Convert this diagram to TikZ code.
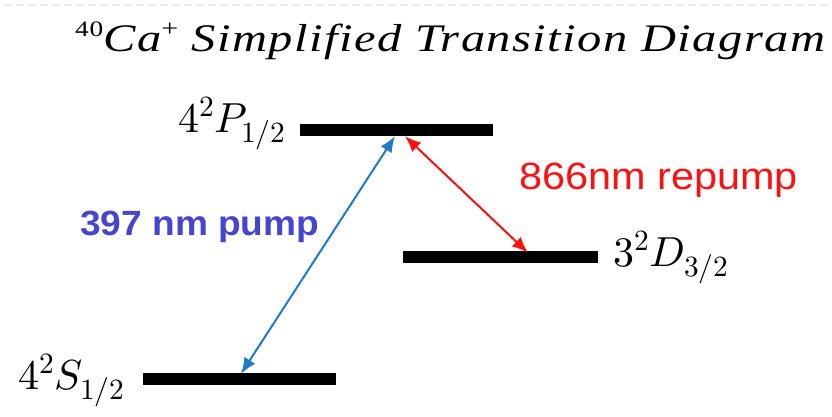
\documentclass[tikz,border=0pt]{standalone}
\usepackage{fontspec}
\usepackage{unicode-math}
\setmathfont{Latin Modern Math}
\newfontfamily\labelfont{Liberation Sans}
\newfontfamily\titlefont[LetterSpace=3]{Liberation Serif}
\usetikzlibrary{arrows.meta}
\definecolor{pumpblue}{HTML}{1F7BC8}
\definecolor{pumptext}{HTML}{4545CF}
\definecolor{repred}{HTML}{FF1010}
\definecolor{faintgray}{HTML}{EBEBEB}
\newsavebox\titlebox
\newcommand\fittitle[2]{%
  \sbox\titlebox{#2}%
  \pgfmathsetmacro\titlescale{#1/\wd\titlebox}%
  \scalebox{\titlescale}[1]{\usebox\titlebox}}
\tikzset{
  level/.style={fill=black, inner sep=0pt, minimum height=12pt, minimum width=#1},
  statelabel/.style={inner sep=0pt, font=\fontsize{42}{50}\selectfont},
  trans/.style={line width=2pt, {Latex[length=16pt,width=13pt]}-{Latex[length=16pt,width=13pt]}},
}
\begin{document}
\begin{tikzpicture}[x=1pt,y=-1pt]
\useasboundingbox (0,0) rectangle (832,417);
\draw[faintgray, line width=1.2pt, dash pattern=on 8pt off 4pt] (4,5) -- (832,5);
% title
\node[anchor=base west, inner sep=0pt, font=\titlefont\itshape\fontsize{39}{46}\selectfont] (title) at (75,52)
  {\fittitle{750}{\raisebox{15pt}{\upshape\fontsize{22}{26}\selectfont 40}Ca\raisebox{15pt}{\upshape\fontsize{24}{28}\selectfont +} Simplified Transition Diagram}};
% levels
\node[level=193pt] (P) at (396.5,130) {};
\node[level=195pt] (D) at (500.5,257) {};
\node[level=193pt] (S) at (239.5,379) {};
% state labels
\node[statelabel, anchor=base east] (Plab) at (286,132) {$4^2P_{1/2}$};
\node[statelabel, anchor=base west] (Dlab) at (613,266) {$3^2D_{3/2}$};
\node[statelabel, anchor=base east] (Slab) at (125,389) {$4^2S_{1/2}$};
% transitions
\draw[trans, pumpblue] ([xshift=1.5pt,yshift=-1pt]S.north) -- ([xshift=-1.5pt]P.south);
\draw[trans, repred] ([xshift=8.5pt]P.south) -- ([xshift=27.5pt,yshift=-2pt]D.north);
% transition labels
\node[anchor=base west, inner sep=0pt, text=pumptext, font=\labelfont\bfseries\fontsize{35}{42}\selectfont] (pumplab) at (80,235) {\scalebox{1.06}[1]{397 nm pump}};
\node[anchor=base west, inner sep=0pt, text=repred, font=\labelfont\fontsize{38}{46}\selectfont] (replab) at (519,189) {\scalebox{1.09}[1]{866nm repump}};
\end{tikzpicture}
\end{document}
